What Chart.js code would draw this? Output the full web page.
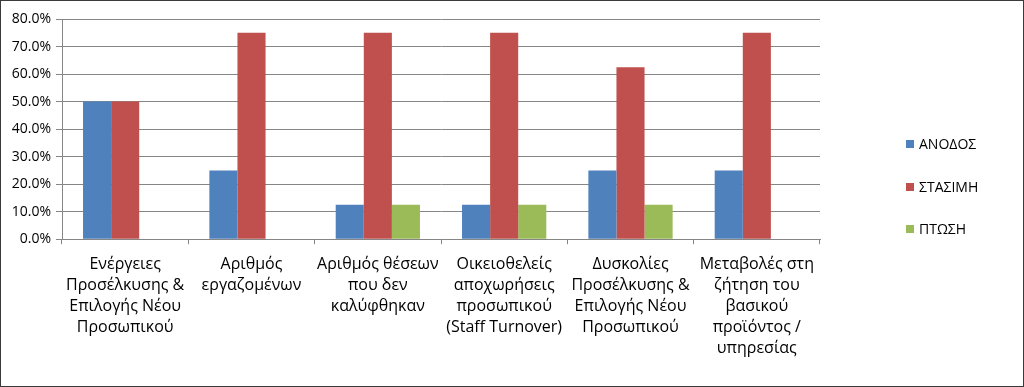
<!DOCTYPE html>
<html>
<head>
<meta charset="utf-8">
<script src="https://cdn.jsdelivr.net/npm/chart.js@4/dist/chart.umd.min.js"></script>
<style>
html,body{margin:0;padding:0;background:#fff;}
#wrap{width:1024px;height:387px;position:relative;}
</style>
</head>
<body>
<div id="wrap"><canvas id="c" width="1024" height="387"></canvas></div>
<script>
const categories = [
  ["Ενέργειες", "Προσέλκυσης &", "Επιλογής Νέου", "Προσωπικού"],
  ["Αριθμός", "εργαζομένων"],
  ["Αριθμός θέσεων", "που δεν", "καλύφθηκαν"],
  ["Οικειοθελείς", "αποχωρήσεις", "προσωπικού", "(Staff Turnover)"],
  ["Δυσκολίες", "Προσέλκυσης &", "Επιλογής Νέου", "Προσωπικού"],
  ["Μεταβολές στη", "ζήτηση του", "βασικού", "προϊόντος /", "υπηρεσίας"]
];
const seriesNames = ["ΑΝΟΔΟΣ", "ΣΤΑΣΙΜΗ", "ΠΤΩΣΗ"];
const anodos   = [50, 25, 12.5, 12.5, 25, 25];
const stasimi  = [50, 75, 75, 75, 62.5, 75];
const ptosi    = [0, 0, 12.5, 12.5, 12.5, 0];
const colors = ["#4F81BD", "#C0504D", "#9BBB59"];

const FONT = "'Open Sans', 'Noto Sans', sans-serif";

const legendPlugin = {
  id: 'customLegend',
  afterDraw(chart) {
    const ctx = chart.ctx;
    ctx.save();
    const x = 906, ys = [144, 187, 229];
    ctx.font = "14px " + FONT;
    ctx.textBaseline = 'middle';
    ctx.textAlign = 'left';
    chart.data.datasets.forEach((ds, i) => {
      ctx.fillStyle = ds.backgroundColor;
      ctx.fillRect(x, ys[i] - 4, 8, 8);
      ctx.fillStyle = '#000';
      ctx.fillText(ds.label, x + 13, ys[i] + 1);
    });
    ctx.strokeStyle = '#3a3a3a';
    ctx.lineWidth = 1;
    ctx.strokeRect(0.5, 0.5, chart.width - 1, chart.height - 1);
    ctx.restore();
  }
};

new Chart(document.getElementById('c'), {
  type: 'bar',
  data: {
    labels: categories,
    datasets: [
      { label: seriesNames[0], data: anodos, backgroundColor: colors[0] },
      { label: seriesNames[1], data: stasimi, backgroundColor: colors[1] },
      { label: seriesNames[2], data: ptosi, backgroundColor: colors[2] }
    ]
  },
  options: {
    responsive: false,
    animation: false,
    devicePixelRatio: 1,
    layout: { padding: { top: 19, right: 204, left: 0, bottom: 18 } },
    datasets: { bar: { categoryPercentage: 0.667, barPercentage: 1.0, borderWidth: 0 } },
    plugins: { legend: { display: false }, tooltip: { enabled: false } },
    scales: {
      x: {
        grid: { display: true, drawOnChartArea: false, drawTicks: true, tickLength: 5, color: '#868686' },
        border: { display: true, color: '#868686' },
        ticks: { color: '#000', font: { family: FONT, size: 16, lineHeight: 1.31 }, padding: 10, maxRotation: 0, autoSkip: false }
      },
      y: {
        min: 0, max: 80,
        afterFit(scale) { scale.width = 62; },
        grid: { color: '#868686', tickLength: 6, drawTicks: true },
        border: { display: true, color: '#868686' },
        ticks: { stepSize: 10, color: '#000', padding: 5, font: { family: FONT, size: 14 },
          callback: v => v.toFixed(1) + '%' }
      }
    }
  },
  plugins: [legendPlugin]
});
</script>
</body>
</html>
